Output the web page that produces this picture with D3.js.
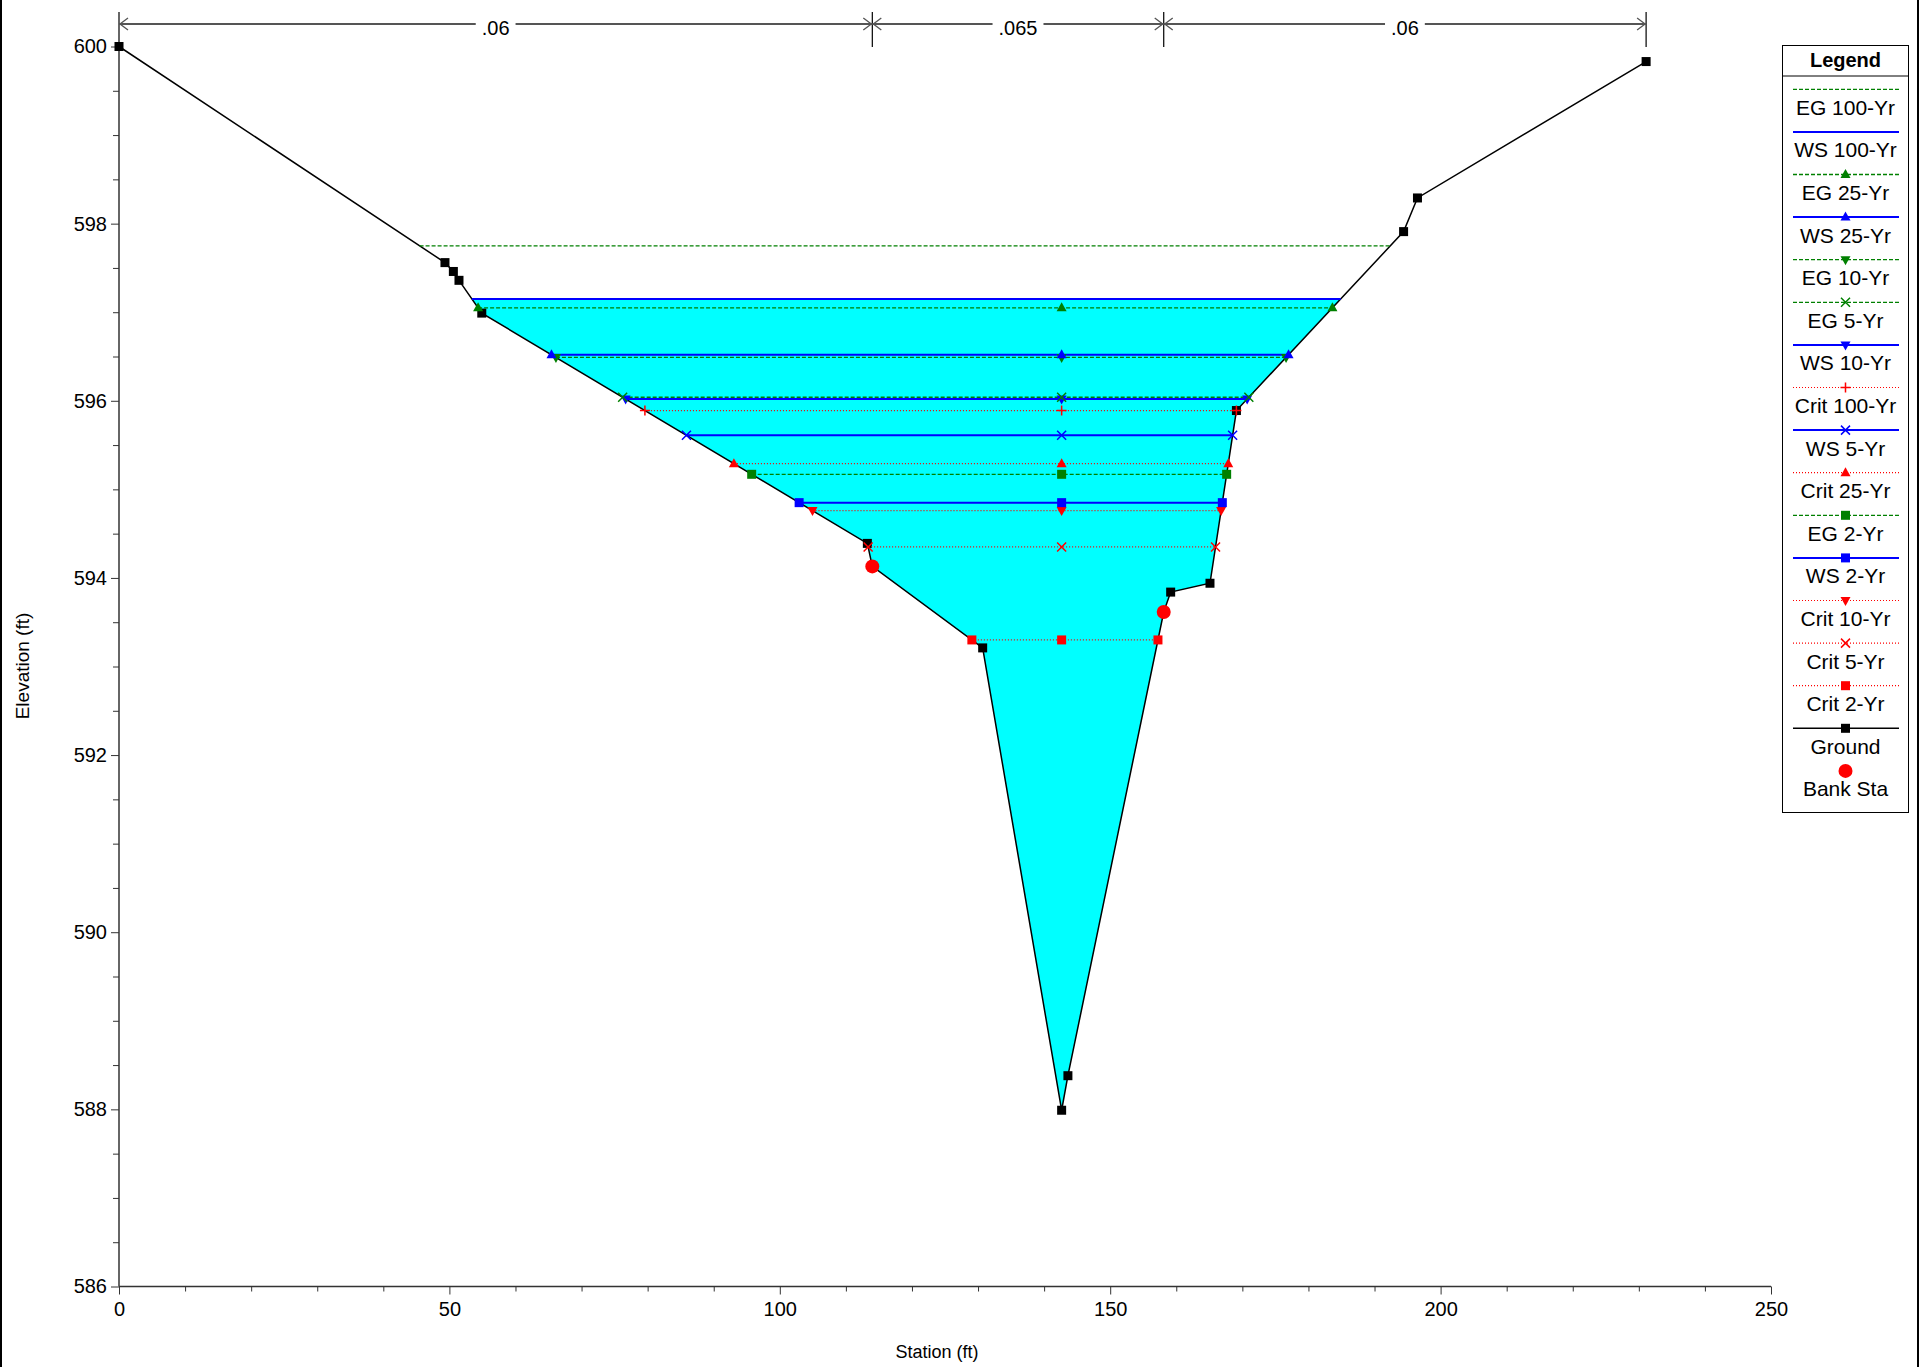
<!DOCTYPE html>
<html><head><meta charset="utf-8">
<script src="https://cdn.jsdelivr.net/npm/d3@7"></script>
<style>
html,body{margin:0;padding:0;background:#fff;}
svg{display:block;font-family:"Liberation Sans",Arial,sans-serif;}
</style></head>
<body>
<svg id="chart" width="1919" height="1367"></svg>
<script>
// ---------------- DATA ----------------
const groundStation = [0, 49.33, 50.6, 51.45, 54.9, 113.25, 114.0, 130.7, 142.65, 143.6, 158.1, 159.15, 165.1, 169.1, 194.4, 196.5, 231.1];
const groundElevation = [600, 597.56, 597.46, 597.36, 596.99, 594.39, 594.13, 593.21, 587.99, 588.38, 593.615, 593.84, 593.94, 595.89, 597.91, 598.29, 599.83];
const bankStations = [114.0, 158.1];
const roughnessBreaks = [0, 114.0, 158.1, 231.1];
const roughnessValues = [".06", ".065", ".06"];
const profileNames = ["EG 100-Yr","WS 100-Yr","EG 25-Yr","WS 25-Yr","EG 10-Yr","EG 5-Yr","WS 10-Yr","Crit 100-Yr","WS 5-Yr","Crit 25-Yr","EG 2-Yr","WS 2-Yr","Crit 10-Yr","Crit 5-Yr","Crit 2-Yr"];
const profileElevations = [597.75, 597.15, 597.05, 596.52, 596.49, 596.04, 596.02, 595.89, 595.61, 595.29, 595.17, 594.85, 594.76, 594.35, 593.30];
const xTickLabels = [0, 50, 100, 150, 200, 250];
const yTickLabels = [586, 588, 590, 592, 594, 596, 598, 600];
const legendLabels = profileNames.concat(["Ground", "Bank Sta"]);

// ---------------- STYLES ----------------
const kindStyle = {
  EG:   {color:"#008000", dash:"4,2", width:1.3},
  WS:   {color:"#0000FF", dash:null, width:2},
  Crit: {color:"#FF0000", dash:"1,2", width:1.2}
};
const markerOf = {
  "EG 100-Yr":null, "WS 100-Yr":null,
  "EG 25-Yr":"triUp", "WS 25-Yr":"triUp",
  "EG 10-Yr":"triDown", "WS 10-Yr":"triDown",
  "EG 5-Yr":"x", "WS 5-Yr":"x",
  "Crit 100-Yr":"plus", "Crit 25-Yr":"triUp", "Crit 10-Yr":"triDown", "Crit 5-Yr":"x",
  "EG 2-Yr":"square", "WS 2-Yr":"square", "Crit 2-Yr":"square"
};

const svg = d3.select("#chart");
const x = d3.scaleLinear().domain([0, 250]).range([119, 1771]);
const y = d3.scaleLinear().domain([586, 600]).range([1286.5, 46.5]);

// frame edges
svg.append("line").attr("x1",1).attr("x2",1).attr("y1",0).attr("y2",1367).attr("stroke","#000").attr("stroke-width",2);
svg.append("line").attr("x1",1918).attr("x2",1918).attr("y1",0).attr("y2",1367).attr("stroke","#000").attr("stroke-width",2);

const ground = groundStation.map((s,i)=>({s, e:groundElevation[i]}));
const iMin = d3.minIndex(groundElevation);

function crossings(level){
  let L=null, R=null, li=0, ri=ground.length-1;
  for(let i=iMin;i>0;i--){
    if(ground[i-1].e>=level){
      const a=ground[i-1], b=ground[i];
      L = a.s + (a.e-level)/(a.e-b.e)*(b.s-a.s); li=i; break;
    }
  }
  for(let i=iMin;i<ground.length-1;i++){
    if(ground[i+1].e>=level){
      const a=ground[i], b=ground[i+1];
      R = a.s + (level-a.e)/(b.e-a.e)*(b.s-a.s); ri=i; break;
    }
  }
  return {L, R, li, ri};
}

// -------- water fill (WS 100-Yr) --------
const wsTop = profileElevations[profileNames.indexOf("WS 100-Yr")];
{
  const c = crossings(wsTop);
  const pts = [[c.L, wsTop]];
  for(let i=c.li;i<=c.ri;i++) pts.push([ground[i].s, ground[i].e]);
  pts.push([c.R, wsTop]);
  svg.append("path")
    .attr("d", d3.line().x(d=>x(d[0])).y(d=>y(d[1]))(pts)+"Z")
    .attr("fill","#00FFFF");
}

// -------- axes --------
const axisColor = "#333";
const xAxisG = svg.append("g").attr("transform",`translate(0,${y(586)})`)
  .call(d3.axisBottom(x).tickValues(xTickLabels).tickSize(8).tickPadding(7).tickFormat(d3.format("d")));
svg.append("g").attr("transform",`translate(0,${y(586)})`)
  .call(d3.axisBottom(x).tickValues(d3.range(0,251,10).filter(v=>v%50)).tickSize(5).tickFormat(""))
  .select(".domain").remove();
const yAxisG = svg.append("g").attr("transform",`translate(${x(0)},0)`)
  .call(d3.axisLeft(y).tickValues(yTickLabels).tickSize(8).tickPadding(4).tickFormat(d3.format("d")));
svg.append("g").attr("transform",`translate(${x(0)},0)`)
  .call(d3.axisLeft(y).tickValues(d3.range(586,600.01,0.5).filter(v=>v%2)).tickSize(6).tickFormat(""))
  .select(".domain").remove();
svg.selectAll(".domain").attr("stroke",axisColor).attr("stroke-width",1.5);
svg.selectAll(".tick line").attr("stroke",axisColor);
svg.selectAll(".tick text").attr("font-size",20).attr("fill","#000").attr("font-family","Liberation Sans, Arial, sans-serif");
xAxisG.select(".domain").attr("d",`M${x(0)},0H${x(250)}`);
yAxisG.select(".domain").attr("d",`M0,12V${y(586)}`);

svg.append("text").attr("x",937).attr("y",1358).attr("text-anchor","middle")
  .attr("font-size",18).text("Station (ft)");
svg.append("text").attr("transform",`translate(29,666) rotate(-90)`).attr("text-anchor","middle")
  .attr("font-size",19).text("Elevation (ft)");

// -------- roughness annotation --------
const ry = 24, rCol = "#555";
roughnessBreaks.forEach((s,i)=>{
  if(i>0) svg.append("line").attr("x1",x(s)).attr("x2",x(s)).attr("y1",12).attr("y2",y(600)+0.5)
    .attr("stroke","#000").attr("stroke-width",1.2);
});
roughnessValues.forEach((v,i)=>{
  const a=x(roughnessBreaks[i]), b=x(roughnessBreaks[i+1]), m=(a+b)/2;
  const t = svg.append("text").attr("x",m).attr("y",ry+11).attr("text-anchor","middle")
    .attr("font-size",20).text(v);
  const w = t.node().getComputedTextLength();
  const g = 6;
  svg.append("line").attr("x1",a).attr("x2",m-w/2-g).attr("y1",ry).attr("y2",ry).attr("stroke",rCol).attr("stroke-width",2);
  svg.append("line").attr("x1",m+w/2+g).attr("x2",b).attr("y1",ry).attr("y2",ry).attr("stroke",rCol).attr("stroke-width",2);
  svg.append("path").attr("d",`M${a+9},${ry-6}L${a+1},${ry}L${a+9},${ry+6}`).attr("fill","none").attr("stroke",rCol).attr("stroke-width",1.3);
  svg.append("path").attr("d",`M${b-9},${ry-6}L${b-1},${ry}L${b-9},${ry+6}`).attr("fill","none").attr("stroke",rCol).attr("stroke-width",1.3);
});

// -------- marker helper --------
function drawMarker(g, type, cx, cy, color, scale=1){
  const s = scale;
  if(!type) return;
  if(type==="square"){
    g.append("rect").attr("x",cx-4.5*s).attr("y",cy-4.5*s).attr("width",9*s).attr("height",9*s).attr("fill",color);
  } else if(type==="triUp"){
    g.append("path").attr("d",`M${cx},${cy-5.5*s}L${cx+5*s},${cy+3.5*s}L${cx-5*s},${cy+3.5*s}Z`).attr("fill",color);
  } else if(type==="triDown"){
    g.append("path").attr("d",`M${cx},${cy+5.5*s}L${cx+5*s},${cy-3.5*s}L${cx-5*s},${cy-3.5*s}Z`).attr("fill",color);
  } else if(type==="x"){
    g.append("path").attr("d",`M${cx-4.5*s},${cy-4.5*s}L${cx+4.5*s},${cy+4.5*s}M${cx+4.5*s},${cy-4.5*s}L${cx-4.5*s},${cy+4.5*s}`)
      .attr("stroke",color).attr("stroke-width",1.5).attr("fill","none");
  } else if(type==="plus"){
    g.append("path").attr("d",`M${cx-5*s},${cy}L${cx+5*s},${cy}M${cx},${cy-5*s}L${cx},${cy+5*s}`)
      .attr("stroke",color).attr("stroke-width",1.5).attr("fill","none");
  } else if(type==="gsquare"){
    g.append("rect").attr("x",cx-4.5*s).attr("y",cy-4.5*s).attr("width",9*s).attr("height",9*s).attr("fill",color);
  } else if(type==="circle"){
    g.append("circle").attr("cx",cx).attr("cy",cy).attr("r",7*s).attr("fill",color);
  }
}
const kindOf = n => n.split(" ")[0];

// -------- ground line --------
svg.append("path").attr("d", d3.line().x(d=>x(d.s)).y(d=>y(d.e))(ground))
  .attr("fill","none").attr("stroke","#000").attr("stroke-width",1.5);
const gG = svg.append("g");
ground.forEach(d=>{ if(!bankStations.includes(d.s)) drawMarker(gG,"gsquare",x(d.s),y(d.e),"#000"); });

// -------- profile lines --------
const pG = svg.append("g");
const thalweg = groundStation[iMin];
for(let k=profileNames.length-1;k>=0;k--){
  const n=profileNames[k], lev=profileElevations[k], st=kindStyle[kindOf(n)];
  const c = crossings(lev);
  const ln = pG.append("line").attr("x1",x(c.L)).attr("x2",x(c.R)).attr("y1",y(lev)).attr("y2",y(lev))
    .attr("stroke",st.color).attr("stroke-width",st.width);
  if(st.dash) ln.attr("stroke-dasharray",st.dash);
}
for(let k=profileNames.length-1;k>=0;k--){
  const n=profileNames[k], lev=profileElevations[k], st=kindStyle[kindOf(n)];
  const c = crossings(lev);
  [c.L, thalweg, c.R].forEach(s=>drawMarker(pG, markerOf[n], x(s), y(lev), st.color));
}

// -------- bank stations --------
bankStations.forEach(s=>{
  const i = groundStation.indexOf(s);
  drawMarker(svg,"circle",x(s),y(groundElevation[i]),"#FF0000");
});

// -------- legend --------
const lg = svg.append("g");
const LX0=1782.5, LX1=1908.5, LY0=45.5, LY1=812.5;
lg.append("rect").attr("x",LX0).attr("y",LY0).attr("width",LX1-LX0).attr("height",LY1-LY0)
  .attr("fill","#fff").attr("stroke","#000").attr("stroke-width",1);
lg.append("text").attr("x",(LX0+LX1)/2).attr("y",67).attr("text-anchor","middle")
  .attr("font-size",20).attr("font-weight","bold").text("Legend");
lg.append("line").attr("x1",LX0).attr("x2",LX1).attr("y1",76).attr("y2",76).attr("stroke","#000");
const lcx = (LX0+LX1)/2;
legendLabels.forEach((n,i)=>{
  const ly = 89.3 + i*42.6;
  if(n==="Bank Sta"){
    drawMarker(lg,"circle",lcx,ly,"#FF0000");
  } else if(n==="Ground"){
    lg.append("line").attr("x1",1793).attr("x2",1899).attr("y1",ly).attr("y2",ly).attr("stroke","#000").attr("stroke-width",1.5);
    drawMarker(lg,"gsquare",lcx,ly,"#000",1);
  } else {
    const st=kindStyle[kindOf(n)];
    const ln=lg.append("line").attr("x1",1793).attr("x2",1899).attr("y1",ly).attr("y2",ly)
      .attr("stroke",st.color).attr("stroke-width",st.width);
    if(st.dash) ln.attr("stroke-dasharray",st.dash);
    drawMarker(lg, markerOf[n], lcx, ly, st.color, 1);
  }
  lg.append("text").attr("x",lcx).attr("y",ly+25.5).attr("text-anchor","middle")
    .attr("font-size",21).text(n);
});
</script>
</body></html>
